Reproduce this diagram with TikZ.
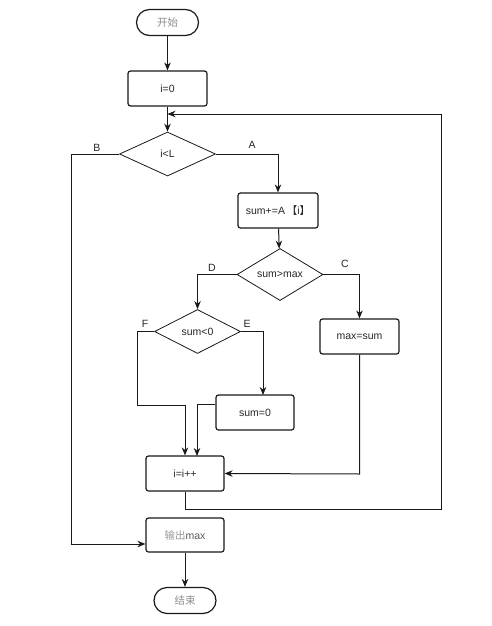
\documentclass[tikz,border=0pt]{standalone}
\usepackage{fontspec}
\setmainfont{Liberation Sans}
\newfontfamily\cjk{Noto Sans CJK SC}
\usetikzlibrary{shapes.geometric,arrows.meta,calc}
\begin{document}
\begin{tikzpicture}[x=1pt,y=-1pt,
  font=\fontsize{10.5}{12}\selectfont,
  every node/.style={text=black!85},
  proc/.style={draw=black!90,line width=1.2pt,rounded corners=2.5pt,minimum width=#1,minimum height=35pt,inner sep=0pt},
  proc/.default=79pt,
  term/.style={draw=black!90,line width=1.2pt,rounded corners=13pt,minimum width=62pt,minimum height=26pt,inner sep=0pt},
  dec/.style={draw=black!90,line width=0.8pt,diamond,inner sep=0pt,minimum width=#1,minimum height=44pt},
  dec/.default=86pt,
  flow/.style={draw=black!90,line width=1pt,-{Stealth[length=8pt,width=6.5pt]}},
  plain/.style={draw=black!90,line width=1pt},
  lbl/.style={inner sep=0pt}
]
\useasboundingbox (0,0) rectangle (491,626);
\node[term] (start) at (167.5,22.5) {\textcolor{black!45}{\cjk 开始}};
\node[proc] (i0) at (167.5,88.5) {i=0};
\node[dec=96pt] (d1) at (167.5,154) {i<L};
\node[proc=80pt] (s1) at (278,210.5) {sum+=A\,{\cjk 【}i{\cjk 】}};
\node[dec] (d2) at (280,274.5) {sum>max};
\node[dec] (d3) at (197.5,331.5) {sum<0};
\node[proc] (ms) at (359.5,336.5) {max=sum};
\node[proc=78pt] (s0) at (255,412.5) {sum=0};
\node[proc=78pt] (inc) at (185,473.5) {i=i++};
\node[proc=78pt,minimum height=34pt] (out) at (185,535) {\textcolor{black!40}{\cjk 输出}\textcolor{black!65}{max}};
\node[term] (end) at (185,600.5) {\textcolor{black!45}{\cjk 结束}};

\node[lbl] (la) at (252,145) {A};
\node[lbl] (lb) at (97,148) {B};
\node[lbl] (lc) at (345,264) {C};
\node[lbl] (ld) at (212,268) {D};
\node[lbl] (le) at (247,324) {E};
\node[lbl] (lf) at (145,324) {F};

\coordinate (loopin) at (167.5,114);
\coordinate (loopr) at (441,114);
\coordinate (loopb) at (441,509);
\coordinate (incb) at (185,509);
\coordinate (bx) at (71,154);
\coordinate (by) at (71,544);
\coordinate (outin) at ($(out.west)+(0,9)$);
\coordinate (ex) at (263,331.5);
\coordinate (s0in) at (263,395);
\coordinate (fx1) at (137,331.5);
\coordinate (fx2) at (137,405);
\coordinate (fx3) at (185,405);
\coordinate (s0w) at ($(s0.west)+(0,-8)$);
\coordinate (s0x) at (197,404.5);
\coordinate (incin2) at (197,456);
\coordinate (msb) at (359.5,474);

\draw[flow] (start) -- (i0);
\draw[flow] (i0) -- (d1);
\draw[flow] (d1.east) -| (s1.north);
\draw[flow] (d1.west) -- (bx) -- (by) -- (outin);
\draw[flow] (s1) -- (d2);
\draw[flow] (d2.west) -| (d3.north);
\draw[flow] (d2.east) -| (ms.north);
\draw[flow] (d3.east) -- (ex) -- (s0in);
\draw[flow] (d3.west) -- (fx1) -- (fx2) -- (fx3) -- (inc.north);
\draw[flow] (s0w) -- (s0x) -- (incin2);
\draw[flow] (ms.south) -- (msb) -- (inc.east);
\draw[plain] (inc.south) -- (incb) -- (loopb) -- (loopr);
\draw[flow] (loopr) -- (loopin);
\draw[flow] (out) -- (end);
\end{tikzpicture}
\end{document}
